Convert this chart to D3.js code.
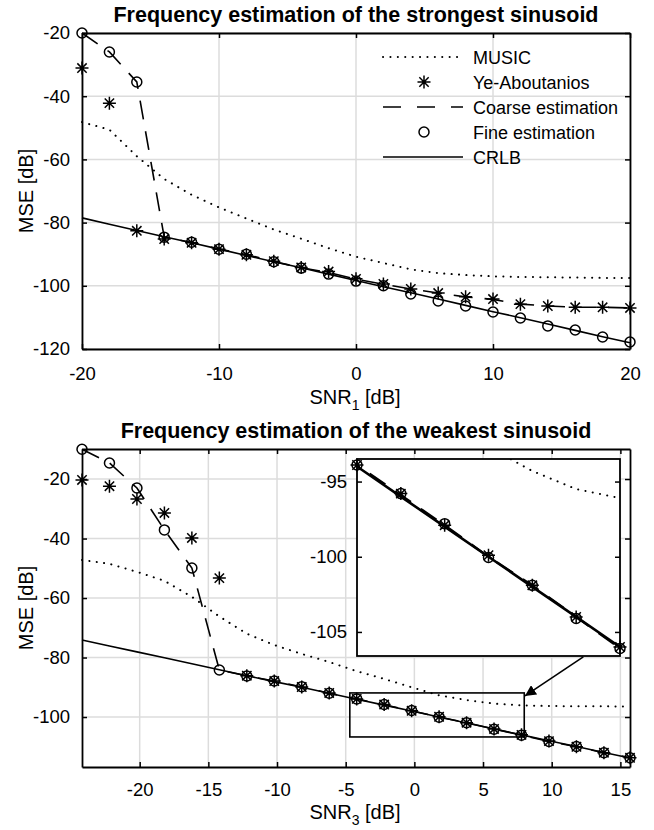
<!DOCTYPE html>
<html>
<head>
<meta charset="utf-8">
<script src="https://cdn.jsdelivr.net/npm/d3@7"></script>
<style>
body { margin: 0; background: #fff; }
text { font-family: "Liberation Sans", Arial, sans-serif; fill: #000; }
</style>
</head>
<body>
<script>
// ---- data: strongest sinusoid (SNR1)
const snr1 = [-20, -18, -16, -14, -12, -10, -8, -6, -4, -2, 0, 2, 4, 6, 8, 10, 12, 14, 16, 18, 20];
const music1 = [-48.2, -50.6, -59, -66.2, -71.2, -75.2, -78.7, -82.2, -85.1, -88.1, -90.8, -92.8, -94.8, -96, -96.6, -97, -97.2, -97.3, -97.4, -97.5, -97.5];
const ye1 = [-31.1, -42.2, -82.6, -85.2, -86.4, -88.4, -90.2, -92.2, -94.2, -95.5, -97.8, -99.4, -101, -102.3, -103.5, -104.2, -105.8, -106.4, -106.8, -106.8, -107];
const coarse1 = [-20, -26, -35.5, -84.6, -86.3, -88.4, -90.1, -92.3, -94.3, -95.8, -97.9, -99.5, -101, -102.3, -103.5, -104.3, -105.8, -106.4, -106.8, -106.8, -107];
const fine1 = [-20, -26, -35.5, -84.6, -86.2, -88.4, -90, -92.4, -94.4, -96.3, -98.5, -100, -102.6, -104.8, -106.4, -108.3, -110.2, -112.7, -114, -116.2, -117.8];
const crlb1 = [-78.5, -80.5, -82.5, -84.5, -86.4, -88.4, -90.4, -92.4, -94.3, -96.3, -98.3, -100.3, -102.2, -104.2, -106.2, -108.2, -110.1, -112.1, -114.1, -116.1, -118];

// ---- data: weakest sinusoid (SNR3)
const snr3 = [-24.2, -22.2, -20.2, -18.2, -16.2, -14.2, -12.2, -10.2, -8.2, -6.2, -4.2, -2.2, -0.2, 1.8, 3.8, 5.8, 7.8, 9.8, 11.8, 13.8, 15.7];
const music3 = [-47.2, -48.5, -51.2, -54.2, -59.6, -66.2, -72, -75.8, -78.8, -81.5, -84.6, -87.2, -90, -92.7, -94.3, -95.5, -96.1, -96.3, -96.4, -96.4, -96.5];
const ye3 = [-20.3, -22.4, -26.7, -31.4, -39.8, -53.3, -86.1, -87.9, -89.9, -91.9, -93.9, -95.8, -97.9, -99.9, -101.9, -104, -106, -108.1, -110, -112, -113.7];
const coarse3 = [-10, -14.6, -23, -37.1, -49.9, -84.2, -86.2, -87.9, -89.9, -92, -93.9, -95.9, -97.9, -100, -101.9, -104, -106.1, -108.2, -110, -112, -113.7];
const fine3 = [-10, -14.6, -23, -37.1, -49.9, -84.2, -86.2, -87.9, -89.8, -92, -93.9, -95.8, -97.8, -100.05, -101.9, -104.1, -106.1, -108.2, -109.9, -112, -113.7];
const crlb3 = [-74.1, -76.1, -78.1, -80.1, -82.1, -84.1, -86.1, -88.1, -90, -92, -94, -96, -98, -100, -102, -104, -106, -108, -109.9, -111.9, -113.8];

// ---- ticks / labels
const xTicks1 = [-20, -10, 0, 10, 20];
const yTicks1 = [-20, -40, -60, -80, -100, -120];
const xTicks3 = [-20, -15, -10, -5, 0, 5, 10, 15];
const yTicks3 = [-20, -40, -60, -80, -100];
const insetYTicks = [-95, -100, -105];
const legendNames = ["MUSIC", "Ye-Aboutanios", "Coarse estimation", "Fine estimation", "CRLB"];

const W = 654, H = 830;
const FONT = '"Liberation Sans", Arial, sans-serif';
const TICK_FS = 18.5;
const DASH = "19,12";
const DOT = "0.1,7.3";

const svg = d3.select("body").append("svg")
    .attr("width", W)
    .attr("height", H);

// asterisk marker (MATLAB style: + and x combined)
function asterisk(s) {
    const d = s * 0.72;
    return `M0,${-s}V${s}M${-s},0H${s}M${-d},${-d}L${d},${d}M${-d},${d}L${d},${-d}`;
}

function styleAxis(sel, fs) {
    sel.select(".domain").attr("stroke", "#000").attr("stroke-width", 1.8);
    sel.selectAll(".tick line").attr("stroke", "#000").attr("stroke-width", 1.5);
    sel.selectAll(".tick text").attr("font-size", fs).attr("font-family", FONT).attr("fill", "#000");
}

function drawSeries(g, x, y, xs, ser, opts) {
    const pts = xs.map((v, i) => [v, ser.vals[i]]);
    const line = d3.line().x(d => x(d[0])).y(d => y(d[1]));
    if (ser.line) {
        g.append("path")
            .datum(pts)
            .attr("d", line)
            .attr("fill", "none")
            .attr("stroke", "#000")
            .attr("stroke-width", ser.width || 1.6)
            .attr("stroke-linecap", ser.line === "dot" ? "round" : "butt")
            .attr("stroke-dasharray", ser.line === "dot" ? DOT : ser.line === "dash" ? DASH : null)
            .attr("clip-path", opts.clip || null);
    }
    const mpts = opts.filter ? pts.filter(opts.filter) : pts;
    if (ser.marker === "o") {
        g.append("g").selectAll("circle")
            .data(mpts)
            .join("circle")
            .attr("cx", d => x(d[0]))
            .attr("cy", d => y(d[1]))
            .attr("r", 5)
            .attr("fill", "none")
            .attr("stroke", "#000")
            .attr("stroke-width", 1.5);
    } else if (ser.marker === "*") {
        g.append("g").selectAll("path")
            .data(mpts)
            .join("path")
            .attr("transform", d => `translate(${x(d[0])},${y(d[1])})`)
            .attr("d", asterisk(6.5))
            .attr("fill", "none")
            .attr("stroke", "#000")
            .attr("stroke-width", 1.5);
    }
}

function panel(o) {
    const x = d3.scaleLinear().domain(o.xDomain).range([o.left, o.right]);
    const y = d3.scaleLinear().domain(o.yDomain).range([o.bottom, o.top]);
    const g = svg.append("g");

    g.append("rect")
        .attr("x", o.left).attr("y", o.top)
        .attr("width", o.right - o.left).attr("height", o.bottom - o.top)
        .attr("fill", "#fff");

    // grid
    g.append("g").selectAll("line")
        .data(o.xTicks)
        .join("line")
        .attr("x1", d => x(d)).attr("x2", d => x(d))
        .attr("y1", o.top).attr("y2", o.bottom)
        .attr("stroke", "#dcdcdc").attr("stroke-width", 1.5);
    g.append("g").selectAll("line")
        .data(o.yTicks)
        .join("line")
        .attr("x1", o.left).attr("x2", o.right)
        .attr("y1", d => y(d)).attr("y2", d => y(d))
        .attr("stroke", "#dcdcdc").attr("stroke-width", 1.5);

    // axes
    const fmt = d => String(d);
    g.append("g")
        .attr("transform", `translate(0,${o.bottom})`)
        .call(d3.axisBottom(x).tickValues(o.xTicks).tickFormat(fmt).tickSizeInner(-5).tickSizeOuter(0).tickPadding(o.xPad))
        .call(s => styleAxis(s, TICK_FS));
    g.append("g")
        .attr("transform", `translate(0,${o.top})`)
        .call(d3.axisTop(x).tickValues(o.xTicks).tickFormat("").tickSizeInner(-5).tickSizeOuter(0))
        .call(s => styleAxis(s, TICK_FS));
    g.append("g")
        .attr("transform", `translate(${o.left},0)`)
        .call(d3.axisLeft(y).tickValues(o.yTicks).tickFormat(fmt).tickSizeInner(-5).tickSizeOuter(0).tickPadding(12))
        .call(s => styleAxis(s, TICK_FS));
    g.append("g")
        .attr("transform", `translate(${o.right},0)`)
        .call(d3.axisRight(y).tickValues(o.yTicks).tickFormat("").tickSizeInner(-5).tickSizeOuter(0))
        .call(s => styleAxis(s, TICK_FS));

    // series
    o.series.forEach(s => drawSeries(g, x, y, o.xs, s, {}));

    // title
    g.append("text")
        .attr("x", (o.left + o.right) / 2)
        .attr("y", o.top - 11)
        .attr("text-anchor", "middle")
        .attr("font-size", 21.5)
        .attr("font-weight", "bold")
        .text(o.title);

    // x label with subscript
    const xl = g.append("text")
        .attr("x", (o.left + o.right) / 2 - 1)
        .attr("y", o.bottom + o.xlabelGap)
        .attr("text-anchor", "middle")
        .attr("font-size", 20);
    xl.append("tspan").text("SNR");
    xl.append("tspan").attr("font-size", 14).attr("dy", 6).text(o.sub);
    xl.append("tspan").attr("dy", -6).text(" [dB]");

    // y label
    g.append("text")
        .attr("transform", `translate(33,${(o.top + o.bottom) / 2}) rotate(-90)`)
        .attr("text-anchor", "middle")
        .attr("font-size", 20)
        .text("MSE [dB]");

    return { g, x, y };
}

function seriesSet(music, ye, coarse, fine, crlb) {
    return [
        { vals: music, line: "dot", width: 2 },
        { vals: ye, marker: "*" },
        { vals: coarse, line: "dash" },
        { vals: fine, marker: "o" },
        { vals: crlb, line: "solid" }
    ];
}

// ---- top panel
panel({
    left: 82, right: 630, top: 33, bottom: 349,
    xDomain: [-20, 20], yDomain: [-120, -20],
    xTicks: xTicks1, yTicks: yTicks1, xs: snr1,
    series: seriesSet(music1, ye1, coarse1, fine1, crlb1),
    title: "Frequency estimation of the strongest sinusoid",
    sub: "1", xlabelGap: 55, xPad: 18
});

// legend (no box)
const leg = svg.append("g");
const legY = d3.scalePoint().domain(legendNames).range([57, 157]);
const lx0 = 383, lx1 = 463, lxm = 424;
legendNames.forEach((name, i) => {
    const yy = legY(name);
    if (i === 0 || i === 2 || i === 4) {
        leg.append("line")
            .attr("x1", lx0).attr("x2", lx1).attr("y1", yy).attr("y2", yy)
            .attr("stroke", "#000")
            .attr("stroke-width", i === 0 ? 2 : 1.6)
            .attr("stroke-linecap", i === 0 ? "round" : "butt")
            .attr("stroke-dasharray", i === 0 ? DOT : i === 2 ? "18,16" : null);
    } else if (i === 1) {
        leg.append("path")
            .attr("transform", `translate(${lxm},${yy})`)
            .attr("d", asterisk(6.5))
            .attr("fill", "none").attr("stroke", "#000").attr("stroke-width", 1.5);
    } else {
        leg.append("circle")
            .attr("cx", lxm).attr("cy", yy).attr("r", 5)
            .attr("fill", "none").attr("stroke", "#000").attr("stroke-width", 1.5);
    }
    leg.append("text")
        .attr("x", 473).attr("y", yy + 6.5)
        .attr("font-size", 18)
        .text(name);
});

// ---- bottom panel
const bot = panel({
    left: 82, right: 630, top: 449, bottom: 767,
    xDomain: [-24.2, 15.7], yDomain: [-116.8, -9.9],
    xTicks: xTicks3, yTicks: yTicks3, xs: snr3,
    series: seriesSet(music3, ye3, coarse3, fine3, crlb3),
    title: "Frequency estimation of the weakest sinusoid",
    sub: "3", xlabelGap: 52, xPad: 16
});

// zoom rectangle and arrow (data coordinates of bottom panel)
const zoomBox = { x0: -4.7, x1: 8.0, y0: -106.7, y1: -91.9 };
bot.g.append("rect")
    .attr("x", bot.x(zoomBox.x0)).attr("y", bot.y(zoomBox.y1))
    .attr("width", bot.x(zoomBox.x1) - bot.x(zoomBox.x0))
    .attr("height", bot.y(zoomBox.y0) - bot.y(zoomBox.y1))
    .attr("fill", "none").attr("stroke", "#000").attr("stroke-width", 1.6);

svg.append("defs").append("marker")
    .attr("id", "arrowhead")
    .attr("viewBox", "0 0 10 10")
    .attr("refX", 10).attr("refY", 5)
    .attr("markerWidth", 11).attr("markerHeight", 11)
    .attr("markerUnits", "userSpaceOnUse")
    .attr("orient", "auto")
    .append("path").attr("d", "M0,0L10,5L0,10Z").attr("fill", "#000");

const arrowFrom = [12.3, -79.8], arrowTo = [8.05, -92.9];

// ---- inset
const inset = { left: 357, right: 620, top: 459, bottom: 656 };
const ix = d3.scaleLinear().domain([-4.2, 7.8]).range([inset.left, inset.right]);
const iy = d3.scaleLinear().domain([-106.6, -93.5]).range([inset.bottom, inset.top]);
const ig = svg.append("g");
ig.append("clipPath").attr("id", "insetClip")
    .append("rect")
    .attr("x", inset.left).attr("y", inset.top)
    .attr("width", inset.right - inset.left).attr("height", inset.bottom - inset.top);
ig.append("rect")
    .attr("x", inset.left).attr("y", inset.top)
    .attr("width", inset.right - inset.left).attr("height", inset.bottom - inset.top)
    .attr("fill", "#fff");

const inDomain = d => d[0] >= -4.21 && d[0] <= 7.81;
const insetSeries = seriesSet(music3, ye3, coarse3, fine3, crlb3);
insetSeries[2].width = 2.2;
insetSeries[4].width = 2.6;
insetSeries.forEach(s => drawSeries(ig, ix, iy, snr3, s, { clip: "url(#insetClip)", filter: inDomain }));

ig.append("rect")
    .attr("x", inset.left).attr("y", inset.top)
    .attr("width", inset.right - inset.left).attr("height", inset.bottom - inset.top)
    .attr("fill", "none").attr("stroke", "#000").attr("stroke-width", 1.8);
ig.append("g")
    .attr("transform", `translate(${inset.left},0)`)
    .call(d3.axisLeft(iy).tickValues(insetYTicks).tickFormat(d => String(d)).tickSizeInner(-5).tickSizeOuter(0).tickPadding(10))
    .call(s => styleAxis(s, TICK_FS))
    .call(s => s.select(".domain").remove());
ig.append("g")
    .attr("transform", `translate(${inset.right},0)`)
    .call(d3.axisRight(iy).tickValues(insetYTicks).tickFormat("").tickSizeInner(-5).tickSizeOuter(0))
    .call(s => styleAxis(s, TICK_FS))
    .call(s => s.select(".domain").remove());

// arrow on top
svg.append("line")
    .attr("x1", bot.x(arrowFrom[0])).attr("y1", bot.y(arrowFrom[1]))
    .attr("x2", bot.x(arrowTo[0])).attr("y2", bot.y(arrowTo[1]))
    .attr("stroke", "#000").attr("stroke-width", 1.6)
    .attr("marker-end", "url(#arrowhead)");
</script>
</body>
</html>
